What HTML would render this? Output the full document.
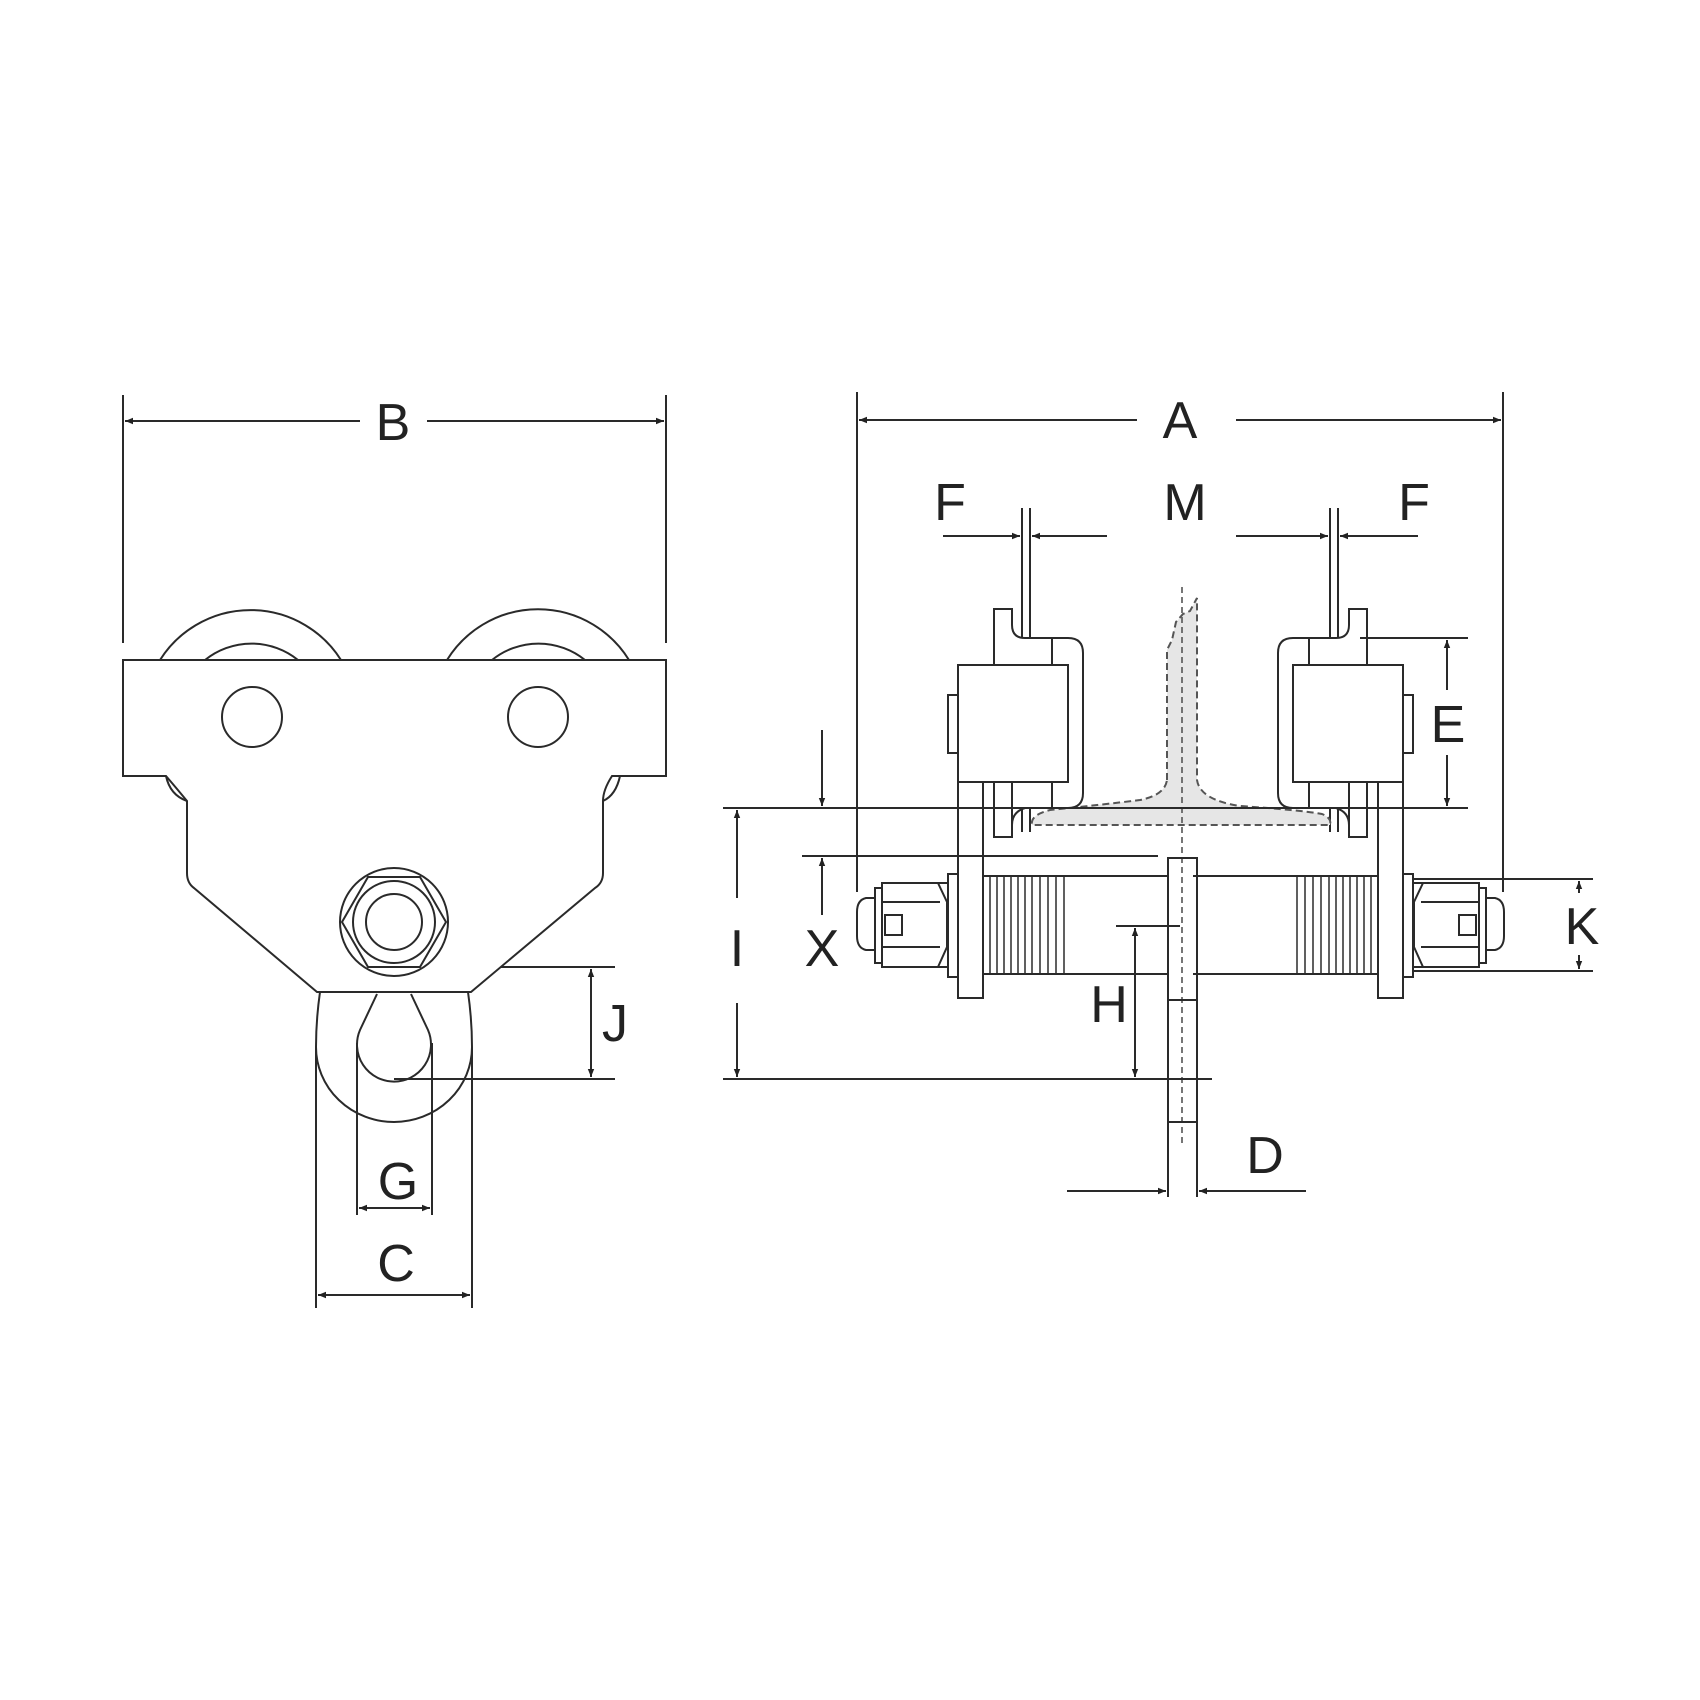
<!DOCTYPE html>
<html><head><meta charset="utf-8"><style>
html,body{margin:0;padding:0;background:#fff;}
svg{display:block;}
text{font-family:"Liberation Sans",sans-serif;fill:#222;}
</style></head><body>
<svg width="1700" height="1700" viewBox="0 0 1700 1700" xmlns="http://www.w3.org/2000/svg">
<defs>
<marker id="ar" viewBox="0 0 10 10" refX="10" refY="5" markerWidth="10" markerHeight="8" markerUnits="userSpaceOnUse" orient="auto"><path d="M0,1 L10,5 L0,9 Z" fill="#222"/></marker>
</defs>
<g fill="none" stroke="#2a2a2a" stroke-width="2">
<!-- ===== LEFT VIEW ===== -->
<!-- B -->
<line x1="123" y1="395" x2="123" y2="643"/>
<line x1="666" y1="395" x2="666" y2="643"/>
<line x1="360" y1="421" x2="125" y2="421" marker-end="url(#ar)"/>
<line x1="427" y1="421" x2="664" y2="421" marker-end="url(#ar)"/>
<!-- wheels -->
<path d="M160,660 A107,107 0 0 1 341,660"/>
<path d="M205,660 A74,74 0 0 1 298,660"/>
<path d="M447,660 A107,107 0 0 1 629,660"/>
<path d="M492,660 A74,74 0 0 1 585,660"/>
<!-- body -->
<path d="M123,660 H666 V776 H612 Q603,790 603,801 V873 Q603,883 595,888 L471,992 H317 L194,888 Q187,883 187,873 V801 Q178,790 166,776 H123 Z" fill="#fff"/>
<path d="M166,776 Q170,795 187,801"/>
<path d="M620,776 Q616,795 603,801"/>
<circle cx="252" cy="717" r="30"/>
<circle cx="538" cy="717" r="30"/>
<!-- nut -->
<circle cx="394" cy="922" r="54"/>
<polygon points="342,922 368,877 420,877 446,922 420,967 368,967"/>
<circle cx="394" cy="922" r="41"/>
<circle cx="394" cy="922" r="28"/>
<!-- hook -->
<path d="M320,992 Q316,1020 316,1047 A78,75 0 0 0 472,1047 Q472,1020 468,992"/>
<line x1="316" y1="1047" x2="316" y2="1308"/>
<line x1="472" y1="1047" x2="472" y2="1308"/>
<path d="M377,994 L360,1030 A37,37 0 1 0 428,1030 L411,994"/>
<line x1="357" y1="1043" x2="357" y2="1215"/>
<line x1="432" y1="1043" x2="432" y2="1215"/>
<!-- J -->
<line x1="501" y1="967" x2="615" y2="967"/>
<line x1="394" y1="1079" x2="615" y2="1079"/>
<line x1="591" y1="1023" x2="591" y2="969" marker-end="url(#ar)"/>
<line x1="591" y1="1023" x2="591" y2="1077" marker-end="url(#ar)"/>
<!-- G, C -->
<line x1="395" y1="1208" x2="359" y2="1208" marker-end="url(#ar)"/>
<line x1="395" y1="1208" x2="430" y2="1208" marker-end="url(#ar)"/>
<line x1="394" y1="1295" x2="318" y2="1295" marker-end="url(#ar)"/>
<line x1="394" y1="1295" x2="470" y2="1295" marker-end="url(#ar)"/>

<!-- ===== RIGHT VIEW ===== -->
<!-- A -->
<line x1="857" y1="392" x2="857" y2="892"/>
<line x1="1503" y1="392" x2="1503" y2="892"/>
<line x1="1137" y1="420" x2="859" y2="420" marker-end="url(#ar)"/>
<line x1="1236" y1="420" x2="1501" y2="420" marker-end="url(#ar)"/>
<!-- F / M -->
<line x1="1022" y1="508" x2="1022" y2="832"/>
<line x1="1030" y1="508" x2="1030" y2="832"/>
<line x1="1330" y1="508" x2="1330" y2="832"/>
<line x1="1338" y1="508" x2="1338" y2="832"/>
<line x1="943" y1="536" x2="1020" y2="536" marker-end="url(#ar)"/>
<line x1="1107" y1="536" x2="1032" y2="536" marker-end="url(#ar)"/>
<line x1="1236" y1="536" x2="1328" y2="536" marker-end="url(#ar)"/>
<line x1="1418" y1="536" x2="1340" y2="536" marker-end="url(#ar)"/>
<!-- rail -->
<path d="M1167,780 V650 L1172,640 L1176,622 L1183,614 L1190,611 L1197,598 V780 Q1200,800 1240,806 Q1300,810 1322,814 Q1332,818 1330,825 H1032 Q1030,815 1050,810 Q1100,805 1140,800 Q1165,795 1167,780 Z" fill="#e6e6e6" stroke="#555" stroke-dasharray="7,4"/>
<line x1="1182" y1="587" x2="1182" y2="1147" stroke="#555" stroke-dasharray="6,4" stroke-width="1.6"/>
<!-- left assembly -->
<g id="asm">
<path d="M994,837 V609 H1012 V625 Q1012,638 1025,638 H1068 Q1083,638 1083,653 V793 Q1083,808 1068,808 H1025 Q1012,812 1012,825 V837 Z" fill="#fff"/>
<line x1="1052" y1="638" x2="1052" y2="808"/>
<rect x="958" y="665" width="110" height="117" fill="#fff"/>
<rect x="948" y="695" width="10" height="58" fill="#fff"/>
<rect x="958" y="782" width="25" height="216" fill="#fff"/>
<line x1="994" y1="782" x2="994" y2="837"/>
<line x1="1012" y1="782" x2="1012" y2="837"/>
<!-- washer, nut, cap -->
<rect x="948" y="874" width="10" height="103" fill="#fff"/>
<rect x="882" y="883" width="66" height="84" fill="#fff"/>
<line x1="882" y1="902" x2="940" y2="902"/>
<line x1="882" y1="947" x2="940" y2="947"/>
<path d="M938,883 L947,902 V947 L938,967"/>
<rect x="875" y="888" width="7" height="75" fill="#fff"/>
<path d="M875,898 H866 Q857,900 857,912 V936 Q857,948 866,950 H875"/>
<rect x="885" y="915" width="17" height="20"/>
<!-- threads -->
<line x1="983" y1="876" x2="1168" y2="876"/>
<line x1="983" y1="974" x2="1168" y2="974"/>
<g stroke-width="1.5">
<line x1="990" y1="876" x2="990" y2="974"/><line x1="997" y1="876" x2="997" y2="974"/><line x1="1004" y1="876" x2="1004" y2="974"/><line x1="1011" y1="876" x2="1011" y2="974"/><line x1="1018" y1="876" x2="1018" y2="974"/><line x1="1025" y1="876" x2="1025" y2="974"/><line x1="1032" y1="876" x2="1032" y2="974"/><line x1="1040" y1="876" x2="1040" y2="974"/><line x1="1048" y1="876" x2="1048" y2="974"/><line x1="1056" y1="876" x2="1056" y2="974"/><line x1="1064" y1="876" x2="1064" y2="974"/>
</g>
</g>
<use href="#asm" transform="translate(2361,0) scale(-1,1)"/>
<!-- pin -->
<rect x="1168" y="858" width="29" height="264"/>
<line x1="1168" y1="1000" x2="1197" y2="1000"/>
<!-- long lines -->
<line x1="723" y1="808" x2="1468" y2="808"/>
<line x1="802" y1="856" x2="1158" y2="856"/>
<line x1="723" y1="1079" x2="1212" y2="1079"/>
<!-- I -->
<line x1="737" y1="898" x2="737" y2="810" marker-end="url(#ar)"/>
<line x1="737" y1="1003" x2="737" y2="1077" marker-end="url(#ar)"/>
<!-- X -->
<line x1="822" y1="730" x2="822" y2="806" marker-end="url(#ar)"/>
<line x1="822" y1="915" x2="822" y2="858" marker-end="url(#ar)"/>
<!-- E -->
<line x1="1360" y1="638" x2="1468" y2="638"/>
<line x1="1447" y1="690" x2="1447" y2="640" marker-end="url(#ar)"/>
<line x1="1447" y1="755" x2="1447" y2="806" marker-end="url(#ar)"/>
<!-- K -->
<line x1="1413" y1="879" x2="1593" y2="879"/>
<line x1="1413" y1="971" x2="1593" y2="971"/>
<line x1="1579" y1="893" x2="1579" y2="881" marker-end="url(#ar)"/>
<line x1="1579" y1="955" x2="1579" y2="969" marker-end="url(#ar)"/>
<!-- H -->
<line x1="1116" y1="926" x2="1180" y2="926"/>
<line x1="1135" y1="1000" x2="1135" y2="928" marker-end="url(#ar)"/>
<line x1="1135" y1="1000" x2="1135" y2="1077" marker-end="url(#ar)"/>
<!-- D -->
<line x1="1168" y1="1122" x2="1168" y2="1197"/>
<line x1="1197" y1="1122" x2="1197" y2="1197"/>
<line x1="1067" y1="1191" x2="1166" y2="1191" marker-end="url(#ar)"/>
<line x1="1306" y1="1191" x2="1199" y2="1191" marker-end="url(#ar)"/>
</g>
<g font-size="52" text-anchor="middle">
<text x="393" y="440">B</text>
<text x="615" y="1041">J</text>
<text x="398" y="1199">G</text>
<text x="396" y="1281">C</text>
<text x="1180" y="438">A</text>
<text x="950" y="520">F</text>
<text x="1185" y="520">M</text>
<text x="1414" y="520">F</text>
<text x="1448" y="742">E</text>
<text x="1582" y="944">K</text>
<text x="737" y="966">I</text>
<text x="822" y="966">X</text>
<text x="1109" y="1022">H</text>
<text x="1265" y="1173">D</text>
</g>
</svg>
</body></html>
